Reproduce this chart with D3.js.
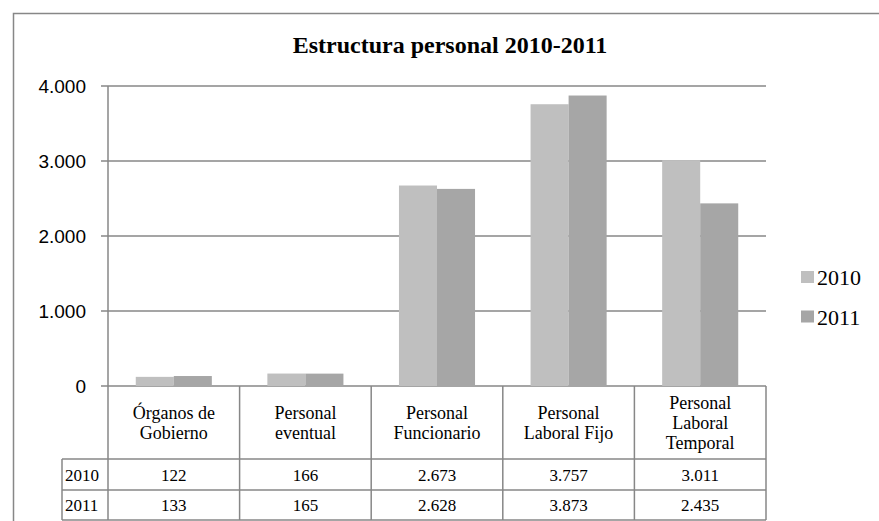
<!DOCTYPE html>
<html><head><meta charset="utf-8">
<script src="https://cdn.jsdelivr.net/npm/d3@7"></script>
<style>html,body{margin:0;padding:0;background:#fff;}svg{display:block;}</style>
</head><body>
<svg id="c" width="879" height="521"></svg>
<script>
const title = "Estructura personal 2010-2011";
const categories = [["Órganos de","Gobierno"],["Personal","eventual"],["Personal","Funcionario"],["Personal","Laboral Fijo"],["Personal","Laboral","Temporal"]];
const seriesNames = ["2010","2011"];
const values2010 = [122,166,2673,3757,3011];
const values2011 = [133,165,2628,3873,2435];
const tableText2010 = ["122","166","2.673","3.757","3.011"];
const tableText2011 = ["133","165","2.628","3.873","2.435"];
const yTicks = [0,1000,2000,3000,4000];
const colors = ["#bfbfbf","#a6a6a6"];

const svg = d3.select("#c");
const gridColor = "#878787";
const L = 108, R = 766, T = 86, B = 386;
const catIdx = d3.range(categories.length);
const x = d3.scaleBand().domain(catIdx).range([L,R]).padding(0);
const xs = d3.scaleBand().domain(seriesNames).range([0,x.bandwidth()]).paddingInner(0).paddingOuter(0.73);
const y = d3.scaleLinear().domain([0,4000]).range([B,T]);
const fmt = v => d3.format(",")(v).replace(/,/g,".");

// outer border
svg.append("path").attr("d","M13.5,521 V13.5 H879").attr("fill","none").attr("stroke",gridColor).attr("stroke-width",1.5);

// title
svg.append("text").attr("x",450).attr("y",53).attr("text-anchor","middle")
  .attr("font-family","Liberation Serif, Times New Roman, serif").attr("font-weight","bold").attr("font-size",24)
  .attr("fill","#000").text(title);

// gridlines
svg.append("g").selectAll("line").data(yTicks).join("line")
  .attr("x1",L-7).attr("x2",R).attr("y1",d=>y(d)).attr("y2",d=>y(d))
  .attr("stroke",gridColor).attr("stroke-width",1.5);

// y labels
svg.append("g").selectAll("text").data(yTicks).join("text")
  .attr("x",86).attr("y",d=>y(d)+7).attr("text-anchor","end")
  .attr("font-family","Liberation Sans, Arial, sans-serif").attr("font-size",19).attr("fill","#000")
  .text(d=>fmt(d));

// bars
const data = [values2010, values2011];
const g = svg.append("g");
seriesNames.forEach((s,si)=>{
  g.selectAll("rect.s"+si).data(data[si]).join("rect")
    .attr("x",(d,i)=>x(i)+xs(s)).attr("width",xs.bandwidth())
    .attr("y",d=>y(d)).attr("height",d=>B-y(d)).attr("fill",colors[si]);
});

// axis line (vertical)
svg.append("line").attr("x1",L).attr("x2",L).attr("y1",T).attr("y2",459).attr("stroke",gridColor).attr("stroke-width",1.5);

// table
const rowTops = [386,459,490,520];
const tg = svg.append("g").attr("stroke",gridColor).attr("stroke-width",1.5).attr("fill","none");
// header row verticals
catIdx.forEach(i=>{
  tg.append("line").attr("x1",x(i)+x.bandwidth()).attr("x2",x(i)+x.bandwidth()).attr("y1",B).attr("y2",520);
});
tg.append("line").attr("x1",L).attr("x2",L).attr("y1",459).attr("y2",520);
tg.append("line").attr("x1",62).attr("x2",62).attr("y1",459).attr("y2",520);
tg.append("line").attr("x1",62).attr("x2",R).attr("y1",459).attr("y2",459);
tg.append("line").attr("x1",62).attr("x2",R).attr("y1",490).attr("y2",490);
tg.append("line").attr("x1",62).attr("x2",R).attr("y1",520).attr("y2",520);

const serif = "Liberation Serif, Times New Roman, serif";
// category labels
categories.forEach((lines,i)=>{
  const cx = x(i)+x.bandwidth()/2;
  const lh = 20;
  const cy = (386+459)/2;
  const start = cy - (lines.length-1)*lh/2 + 6;
  lines.forEach((ln,j)=>{
    svg.append("text").attr("x",cx).attr("y",start+j*lh).attr("text-anchor","middle")
      .attr("font-family",serif).attr("font-size",18).attr("fill","#000").text(ln);
  });
});
// row values
[tableText2010, tableText2011].forEach((arr,r)=>{
  const cy = (rowTops[r+1]+rowTops[r+2])/2 + 6;
  svg.append("text").attr("x",65).attr("y",cy).attr("font-family",serif).attr("font-size",17).attr("fill","#000").text(seriesNames[r]);
  arr.forEach((t,i)=>{
    svg.append("text").attr("x",x(i)+x.bandwidth()/2).attr("y",cy).attr("text-anchor","middle")
      .attr("font-family",serif).attr("font-size",17).attr("fill","#000").text(t);
  });
});

// legend
seriesNames.forEach((s,i)=>{
  const ly = 271 + i*39.5;
  svg.append("rect").attr("x",801).attr("y",ly).attr("width",13).attr("height",12).attr("fill",colors[i]);
  svg.append("text").attr("x",817).attr("y",ly+14).attr("font-family",serif).attr("font-size",22).attr("fill","#000").text(s);
});
</script>
</body></html>
